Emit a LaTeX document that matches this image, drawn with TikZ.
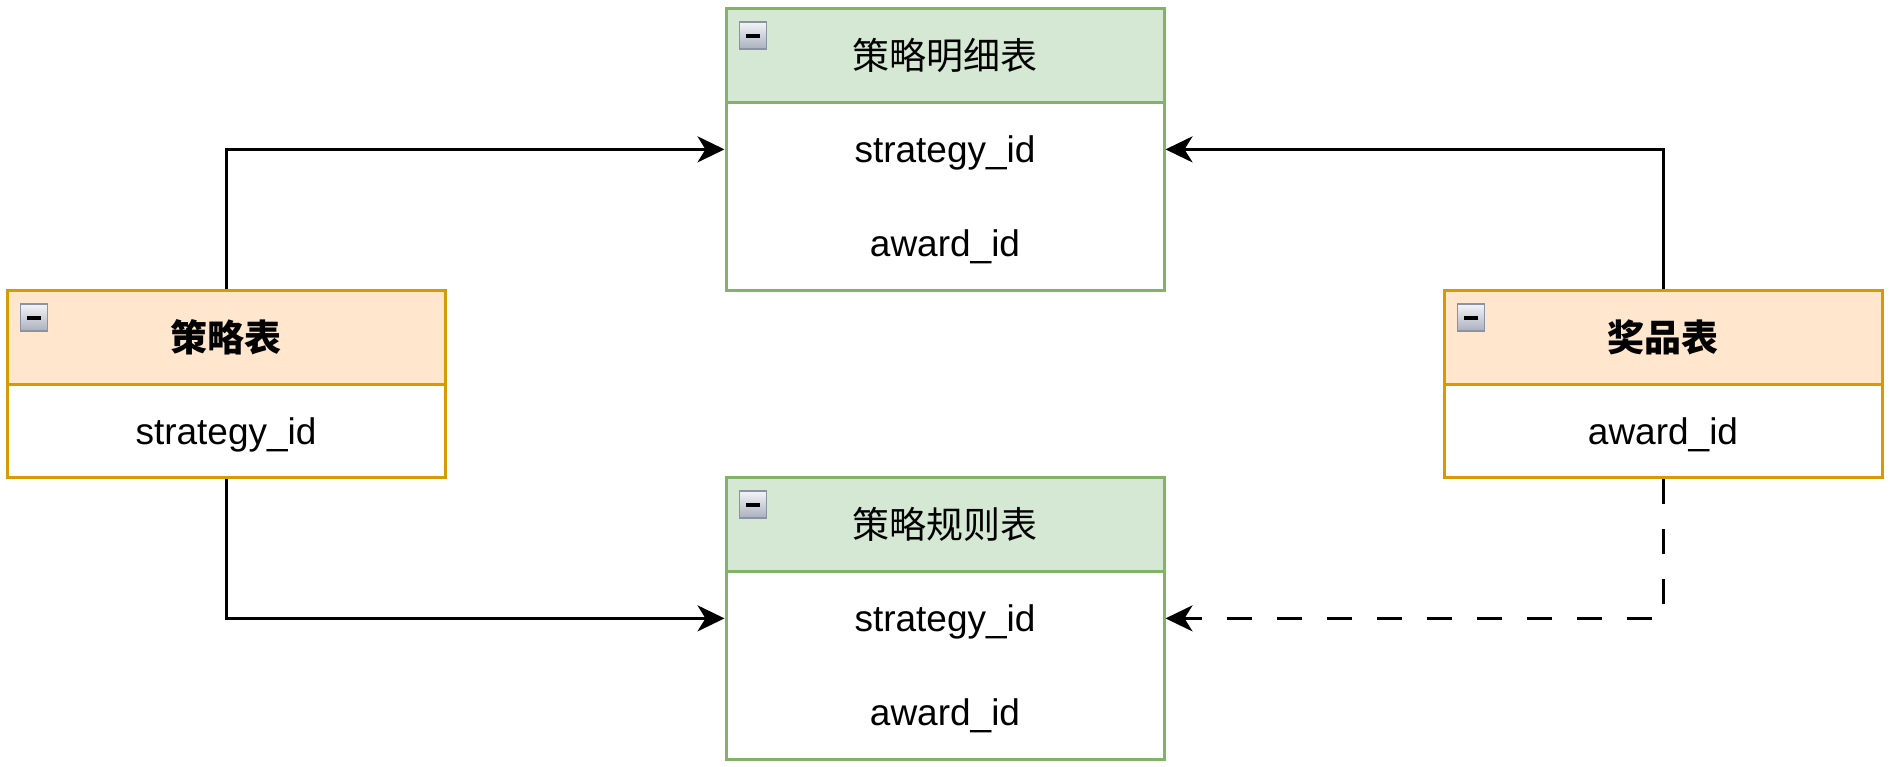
\documentclass[tikz,border=0pt]{standalone}
\usepackage{fontspec}
\setmainfont{Liberation Sans}
\newfontfamily\cjk{Noto Sans CJK SC}
\usetikzlibrary{arrows.meta,shadings,calc}
\definecolor{gfill}{HTML}{D5E8D4}
\definecolor{gline}{HTML}{82B366}
\definecolor{ofill}{HTML}{FFE6CC}
\definecolor{oline}{HTML}{D79B00}
\definecolor{icontop}{HTML}{F4F5F8}
\definecolor{iconbot}{HTML}{A9B0BE}
\definecolor{iconline}{HTML}{8A93A6}
\tikzset{
  cellbox/.style={rectangle, inner sep=0pt, line width=3pt, minimum width=438pt, anchor=north west, font=\fontsize{37}{44}\selectfont},
  greenhead/.style={cellbox, draw=gline, fill=gfill, minimum height=94pt},
  greenrow/.style={cellbox, fill=white, minimum height=93.75pt, text height=30pt, text depth=4pt},
  orangehead/.style={cellbox, draw=oline, fill=ofill, minimum height=94pt},
  orangerow/.style={cellbox, fill=white, minimum height=93pt, text height=30pt, text depth=4pt},
  greenframe/.style={draw=gline, line width=3pt},
  orangeframe/.style={draw=oline, line width=3pt},
  conn/.style={line width=3pt, draw=black, -{Stealth[length=27pt, width=26pt, inset=8pt]}},
  dconn/.style={conn, dash pattern=on 25pt off 25pt},
  iconbox/.style={draw=iconline, line width=1.6pt, top color=icontop, bottom color=iconbot},
}
\newcommand{\minusicon}[1]{%
  \path[iconbox] ($(#1.north west)+(15,15)$) rectangle ($(#1.north west)+(42,42)$);
  \fill[black] ($(#1.north west)+(21.5,27)$) rectangle ($(#1.north west)+(35.5,30.5)$);
}
\newcommand{\frameof}[3]{%
  \draw[#1] ($(#2.north west)+(1.5,1.5)$) rectangle ($(#3.south east)+(-1.5,-1.5)$);
}
\begin{document}
\begin{tikzpicture}[x=1pt, y=-1pt]
\useasboundingbox (0,0) rectangle (1889,766);
% top middle table
\node[greenhead] (detH) at (724.5,7) {\cjk 策略明细表};
\node[greenrow] (detS) at (724.5,101) {strategy\_id};
\node[greenrow] (detA) at (724.5,194.75) {award\_id};
\frameof{greenframe}{detS}{detA}
% bottom middle table
\node[greenhead] (ruleH) at (724.5,476) {\cjk 策略规则表};
\node[greenrow] (ruleS) at (724.5,570) {strategy\_id};
\node[greenrow] (ruleA) at (724.5,663.75) {award\_id};
\frameof{greenframe}{ruleS}{ruleA}
% left table
\node[orangehead] (stH) at (5.5,289) {\cjk\bfseries 策略表};
\node[orangerow] (stR) at (5.5,383) {strategy\_id};
\frameof{orangeframe}{stR}{stR}
% right table
\node[orangehead] (awH) at (1442.5,289) {\cjk\bfseries 奖品表};
\node[orangerow] (awR) at (1442.5,383) {award\_id};
\frameof{orangeframe}{awR}{awR}
% icons
\minusicon{detH}
\minusicon{ruleH}
\minusicon{stH}
\minusicon{awH}
% connectors
\draw[conn] (stH.north) |- (detS.west);
\draw[conn] (stR.south) |- (ruleS.west);
\draw[conn] (awH.north) |- (detS.east);
\draw[dconn] (awR.south) |- (ruleS.east);
\end{tikzpicture}
\end{document}
